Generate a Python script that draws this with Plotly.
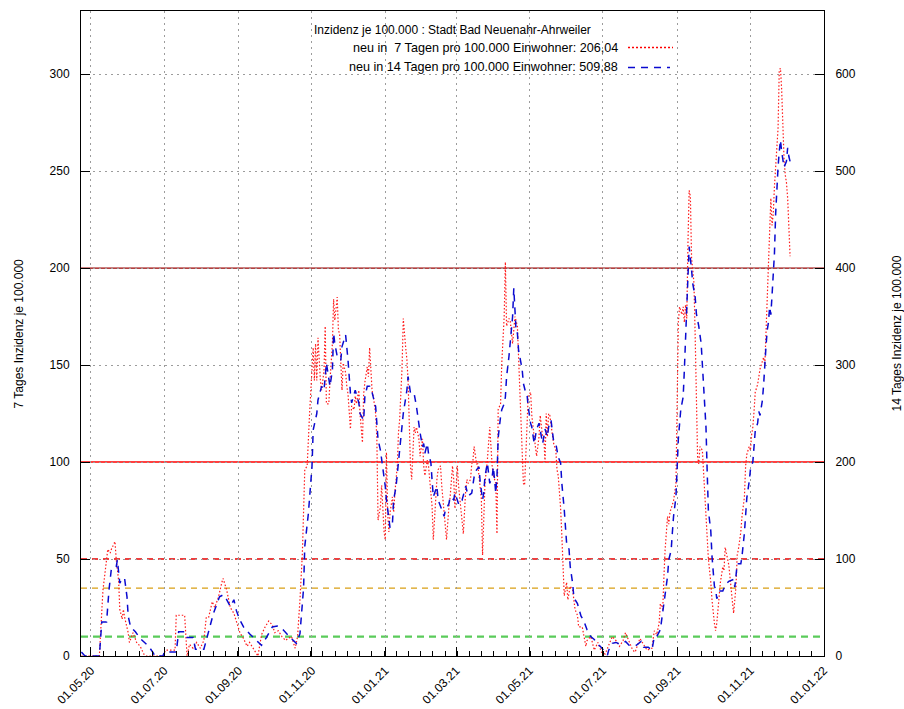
import pandas as pd
import plotly.graph_objects as go

# ---------------- data ----------------
base_date = "2020-05-01"   # day 0 of the day offsets below

# 7-day incidence (left axis), day offsets from base_date
red_days = [
    -8, 7, 10, 13, 14, 16, 17, 20, 21, 23,
    24, 26, 27, 28, 31, 32, 35, 38, 41, 44,
    46, 60, 62, 70, 71, 78, 80, 82, 85, 88,
    91, 94, 96, 98, 101, 103, 106, 109, 110, 113,
    116, 119, 121, 124, 127, 130, 132, 135, 139, 142,
    145, 148, 151, 153, 156, 159, 162, 164, 167, 170,
    172, 174, 176, 178, 180, 182, 184, 185, 186, 187,
    188, 189, 191, 192, 194, 195, 196, 198, 199, 201,
    202, 203, 205, 206, 207, 209, 210, 212, 213, 214,
    216, 217, 219, 220, 221, 223, 224, 226, 227, 228,
    230, 231, 232, 234, 235, 237, 238, 239, 241, 242,
    244, 245, 246, 247, 248, 249, 251, 252, 253, 255,
    256, 257, 259, 260, 262, 263, 264, 266, 267, 269,
    270, 271, 273, 274, 276, 277, 278, 280, 281, 282,
    284, 285, 287, 288, 289, 291, 292, 294, 295, 296,
    298, 299, 301, 302, 303, 305, 306, 308, 309, 310,
    312, 313, 314, 316, 317, 318, 319, 321, 322, 323,
    325, 326, 327, 328, 330, 331, 332, 334, 335, 337,
    338, 339, 341, 342, 344, 345, 346, 348, 349, 351,
    352, 353, 355, 356, 357, 359, 360, 361, 362, 363,
    364, 366, 367, 369, 370, 371, 373, 374, 376, 377,
    378, 379, 380, 381, 382, 384, 385, 387, 388, 389,
    391, 392, 393, 394, 396, 397, 399, 401, 402, 403,
    405, 406, 409, 412, 413, 416, 417, 419, 422, 425,
    428, 432, 434, 437, 440, 443, 445, 451, 453, 457,
    463, 467, 469, 471, 473, 474, 476, 477, 478, 480,
    481, 482, 484, 485, 487, 488, 489, 490, 492, 493,
    494, 495, 496, 497, 498, 499, 500, 501, 502, 503,
    504, 505, 506, 507, 509, 510, 512, 513, 514, 516,
    517, 519, 520, 521, 523, 524, 526, 527, 528, 530,
    531, 534, 535, 537, 538, 539, 541, 542, 544, 545,
    546, 548, 549, 550, 551, 552, 553, 555, 556, 557,
    559, 560, 561, 562, 563, 564, 565, 566, 567, 568,
    569, 570, 571, 572, 573, 574, 575, 576, 577, 578,
    579, 580, 581, 582,
]
red_vals = [
    0, 0, 34, 48, 55, 53, 55, 59, 50, 39,
    24, 19, 24, 20, 12, 7, 12, 7, 5, 1,
    0, 0, 3, 3, 21, 21, 0, 6, 4, 7,
    4, 8, 20, 20, 28, 25, 30, 38, 40, 34,
    25, 22, 18, 12, 9, 5, 7, 4, 0, 11,
    15, 18, 16, 12, 13, 10, 8, 9, 10, 4,
    10, 29, 53, 96, 98, 125, 147, 159, 142, 161,
    142, 164, 142, 137, 147, 170, 130, 130, 142, 161,
    184, 173, 185, 168, 166, 137, 151, 146, 139, 135,
    117, 129, 127, 134, 130, 137, 125, 110, 135, 141,
    149, 144, 159, 137, 134, 125, 112, 70, 77, 88,
    64, 60, 105, 74, 64, 74, 82, 74, 84, 98,
    115, 122, 149, 174, 159, 153, 142, 98, 91, 118,
    115, 118, 112, 103, 112, 98, 93, 101, 98, 91,
    77, 60, 84, 91, 96, 98, 88, 74, 67, 60,
    77, 82, 98, 91, 76, 98, 88, 76, 72, 63,
    86, 91, 89, 91, 99, 101, 108, 99, 99, 93,
    81, 52, 75, 89, 101, 113, 118, 98, 93, 89,
    63, 127, 130, 151, 175, 203, 170, 174, 173, 161,
    170, 175, 170, 155, 141, 113, 89, 88, 106, 127,
    134, 136, 124, 113, 106, 103, 113, 124, 113, 113,
    100, 125, 113, 125, 124, 113, 110, 106, 96, 93,
    76, 62, 48, 31, 38, 29, 36, 34, 29, 24,
    21, 15, 15, 5, 8, 10, 8, 3, 7, 2,
    1, 7, 10, 8, 5, 8, 12, 3, 2, 9,
    3, 4, 13, 11, 17, 27, 24, 41, 55, 72,
    68, 74, 79, 80, 89, 123, 172, 180, 176, 180,
    172, 181, 174, 213, 240, 237, 205, 199, 192, 165,
    137, 103, 99, 108, 106, 96, 75, 63, 50, 38,
    29, 17, 13, 17, 29, 38, 46, 44, 56, 51,
    47, 28, 22, 36, 52, 55, 64, 72, 82, 98,
    104, 108, 106, 114, 118, 126, 136, 140, 144, 148,
    152, 154, 150, 168, 176, 200, 218, 236, 222, 228,
    242, 252, 268, 272, 302, 303, 292, 272, 256, 248,
    244, 236, 222, 206.04,
]

# 14-day incidence (right axis), day offsets from base_date
blue_days = [
    -8, -5, 7, 9, 13, 15, 17, 21, 22, 24,
    26, 28, 30, 31, 33, 37, 41, 48, 52, 53,
    60, 61, 71, 73, 78, 80, 85, 87, 94, 102,
    107, 110, 113, 116, 119, 121, 124, 127, 132, 138,
    142, 146, 151, 155, 160, 166, 169, 171, 174, 177,
    178, 181, 184, 185, 188, 189, 192, 194, 196, 198,
    199, 201, 202, 203, 205, 208, 209, 212, 213, 214,
    216, 217, 220, 223, 224, 227, 228, 230, 232, 234,
    237, 238, 239, 241, 242, 244, 245, 246, 248, 249,
    251, 252, 254, 256, 258, 260, 263, 264, 266, 269,
    271, 272, 274, 276, 277, 278, 280, 281, 283, 284,
    285, 288, 289, 292, 294, 295, 298, 299, 302, 303,
    306, 308, 309, 312, 314, 317, 319, 321, 323, 324,
    326, 327, 328, 330, 331, 332, 334, 335, 337, 338,
    339, 340, 341, 342, 344, 345, 346, 348, 349, 350,
    351, 352, 353, 354, 355, 356, 358, 359, 360, 362,
    363, 364, 366, 367, 369, 370, 371, 373, 374, 376,
    377, 378, 380, 381, 383, 384, 385, 387, 388, 389,
    391, 392, 394, 395, 396, 398, 399, 401, 402, 403,
    405, 408, 410, 413, 416, 419, 421, 424, 427, 430,
    431, 434, 437, 439, 442, 445, 448, 454, 458, 460,
    464, 467, 469, 471, 474, 476, 478, 480, 481, 483,
    484, 485, 487, 488, 489, 491, 493, 494, 495, 496,
    497, 498, 499, 500, 501, 503, 504, 506, 508, 509,
    510, 512, 513, 514, 516, 517, 519, 520, 521, 523,
    526, 528, 531, 535, 536, 537, 538, 541, 542, 544,
    545, 546, 548, 549, 551, 552, 553, 555, 556, 557,
    559, 560, 561, 562, 563, 564, 565, 566, 567, 568,
    569, 570, 571, 572, 573, 574, 575, 576, 577, 579,
    580, 581, 582,
]
blue_vals = [
    4, 0, 0, 35, 35, 68, 90, 92, 99, 75,
    80, 80, 61, 41, 30, 25, 18, 10, 3, 0,
    0, 4, 4, 25, 25, 19, 19, 7, 7, 44,
    61, 63, 58, 51, 58, 47, 37, 30, 23, 16,
    11, 19, 30, 31, 27, 19, 16, 13, 23, 70,
    113, 147, 195, 233, 250, 264, 278, 274, 302, 288,
    278, 295, 333, 322, 309, 305, 319, 331, 319, 305,
    271, 261, 274, 261, 250, 243, 267, 278, 278, 272,
    257, 236, 223, 212, 202, 188, 175, 161, 137, 132,
    137, 161, 175, 202, 223, 250, 274, 288, 271, 271,
    257, 247, 230, 216, 219, 209, 219, 209, 199, 181,
    164, 175, 161, 151, 144, 150, 157, 164, 161, 168,
    157, 162, 161, 175, 165, 168, 185, 192, 195, 180,
    161, 168, 185, 199, 185, 178, 185, 195, 168, 185,
    225, 240, 247, 254, 260, 267, 288, 309, 326, 333,
    350, 379, 355, 333, 333, 315, 302, 295, 281, 271,
    270, 257, 240, 236, 219, 226, 234, 240, 234, 219,
    226, 234, 226, 236, 243, 234, 223, 219, 212, 205,
    199, 178, 151, 133, 116, 110, 92, 75, 61, 58,
    54, 41, 37, 27, 20, 17, 13, 10, 6, 1,
    6, 13, 14, 13, 13, 15, 11, 11, 15, 9,
    9, 6, 20, 20, 27, 44, 65, 82, 99, 109,
    127, 144, 164, 192, 224, 254, 267, 295, 322, 364,
    391, 422, 405, 398, 384, 370, 353, 340, 322, 298,
    271, 236, 190, 150, 129, 103, 72, 69, 59, 67,
    67, 73, 77, 79, 71, 83, 95, 95, 103, 127,
    147, 163, 180, 192, 200, 220, 232, 240, 252, 248,
    264, 280, 304, 320, 336, 344, 360, 352, 372, 390,
    415, 456, 484, 504, 520, 532, 520, 512, 504, 510,
    524, 515, 509.88,
]

x_tick_dates = ["2020-05-01", "2020-07-01", "2020-09-01", "2020-11-01",
                "2021-01-01", "2021-03-01", "2021-05-01", "2021-07-01",
                "2021-09-01", "2021-11-01", "2022-01-01"]
x_tick_labels = ["01.05.20", "01.07.20", "01.09.20", "01.11.20", "01.01.21",
                 "01.03.21", "01.05.21", "01.07.21", "01.09.21", "01.11.21",
                 "01.01.22"]
x_range = ["2020-04-22 17:00", "2022-01-01 06:00"]
y_ticks = [0, 50, 100, 150, 200, 250, 300]
y2_ticks = [0, 100, 200, 300, 400, 500, 600]
y_max = 332.5

threshold_vals = [200, 100, 50, 35, 10]
threshold_colors = ["#990000", "#ff0000", "#e80000", "#d99f14", "#5acb5a"]
threshold_dash = ["solid", "solid", "6px,5px", "6px,5px", "7px,5px"]
threshold_width = [1.3, 1.3, 1.3, 1.2, 2.2]

legend_title = "Inzidenz je 100.000 : Stadt Bad Neuenahr-Ahrweiler"
legend_7 = "neu in \u00a07 Tagen pro 100.000 Einwohner: 206,04"
legend_14 = "neu in 14 Tagen pro 100.000 Einwohner: 509,88"
y_title = "7 Tages Inzidenz je 100.000"
y2_title = "14 Tages Inzidenz je 100.000"

# ---------------- figure ----------------
base = pd.Timestamp(base_date)
red_dates = base + pd.to_timedelta(red_days, unit="D")
blue_dates = base + pd.to_timedelta(blue_days, unit="D")

FONT = "Liberation Sans, Arial, Helvetica, sans-serif"
RED = "#ff1a1a"
BLUE = "#0a0ad0"
RED_DASH = "1.5px,2px"
BLUE_DASH = "7px,6px"

fig = go.Figure()
fig.add_trace(go.Scatter(x=red_dates, y=red_vals, mode="lines", name=legend_7,
                         line=dict(color=RED, width=1.2, dash=RED_DASH)))
fig.add_trace(go.Scatter(x=blue_dates, y=blue_vals, mode="lines", name=legend_14,
                         yaxis="y2",
                         line=dict(color=BLUE, width=1.5, dash=BLUE_DASH)))

shapes = []
for v, c, d, w in zip(threshold_vals, threshold_colors, threshold_dash, threshold_width):
    shapes.append(dict(type="line", xref="paper", x0=0, x1=1, yref="y", y0=v, y1=v,
                       line=dict(color=c, width=w, dash=d), layer="between"))

# plot area geometry (pixels) used to place the legend decorations
W, H = 904, 709
ml, mr, mt, mb = 81, 80, 11, 53
pw, ph = W - ml - mr, H - mt - mb


def px(xp):
    return (xp - ml) / pw


def py(yp):
    return (H - mb - yp) / ph


# hand-made legend (text right aligned, sample to the right)
shapes.append(dict(type="line", xref="paper", yref="paper", x0=px(628), x1=px(673),
                   y0=py(47.5), y1=py(47.5),
                   line=dict(color="#ff0000", width=1.6, dash="2px,2px")))
shapes.append(dict(type="line", xref="paper", yref="paper", x0=px(628), x1=px(670),
                   y0=py(67.5), y1=py(67.5), line=dict(color=BLUE, width=1.5, dash=BLUE_DASH)))

ENTRY_FONT = dict(family=FONT, size=12.6, color="black")
annotations = [
    dict(text=legend_title, xref="paper", yref="paper", x=px(452), y=py(30),
         xanchor="center", yanchor="middle", showarrow=False),
    dict(text=legend_7, xref="paper", yref="paper", x=px(620), y=py(47.5),
         xanchor="right", yanchor="middle", showarrow=False, font=ENTRY_FONT),
    dict(text=legend_14, xref="paper", yref="paper", x=px(620), y=py(67.5),
         xanchor="right", yanchor="middle", showarrow=False, font=ENTRY_FONT),
    dict(text=y_title, xref="paper", yref="paper", x=px(18), y=0.5, textangle=-90,
         xanchor="center", yanchor="middle", showarrow=False),
    dict(text=y2_title, xref="paper", yref="paper", x=px(896), y=0.5, textangle=-90,
         xanchor="center", yanchor="middle", showarrow=False),
]

GRID = "#9c9c9c"
fig.update_layout(
    width=W, height=H,
    margin=dict(l=ml, r=mr, t=mt, b=mb, pad=0, autoexpand=False),
    paper_bgcolor="white", plot_bgcolor="white",
    font=dict(family=FONT, size=12, color="black"),
    showlegend=False,
    shapes=shapes,
    annotations=annotations,
    xaxis=dict(
        type="date", range=x_range, automargin=False,
        tickmode="array", tickvals=x_tick_dates, ticktext=x_tick_labels,
        tickangle=-45, ticks="inside", ticklen=9, tickwidth=1, tickcolor="black",
        showline=True, linecolor="black", linewidth=1, mirror=True,
        showgrid=True, gridcolor=GRID, griddash="2px,4px", gridwidth=1,
        zeroline=False, ticklabelstandoff=2,
        tickfont=dict(family=FONT, size=12),
        minor=dict(ticks="inside", ticklen=5, tickwidth=1, tickcolor="black",
                   tick0=base_date, dtick=61 / 6 * 86400000, showgrid=False),
    ),
    yaxis=dict(
        range=[0, y_max], tickmode="array", tickvals=y_ticks, automargin=False,
        ticks="inside", ticklen=9, tickwidth=1, tickcolor="black",
        showline=True, linecolor="black", linewidth=1,
        showgrid=True, gridcolor=GRID, griddash="2px,4px", gridwidth=1,
        zeroline=False, ticklabelstandoff=8,
        tickfont=dict(family=FONT, size=12),
    ),
    yaxis2=dict(
        range=[0, 2 * y_max], overlaying="y", side="right", automargin=False,
        tickmode="array", tickvals=y2_ticks,
        ticks="inside", ticklen=9, tickwidth=1, tickcolor="black",
        showline=True, linecolor="black", linewidth=1,
        showgrid=False, zeroline=False, ticklabelstandoff=8,
        tickfont=dict(family=FONT, size=12),
    ),
)

fig.write_html("out.html")
